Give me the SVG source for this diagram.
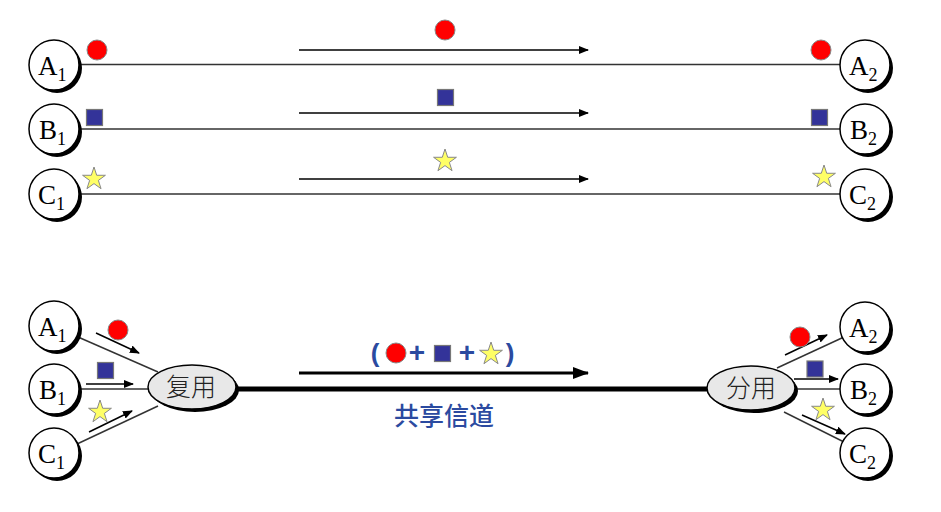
<svg xmlns="http://www.w3.org/2000/svg" xmlns:xlink="http://www.w3.org/1999/xlink" width="941" height="512" viewBox="0 0 941 512">
<style>
.node circle.bg{fill:#fff;stroke:#000;stroke-width:1.5}
.shadow{fill:#000}
.lbl{font-family:"Liberation Serif","Times New Roman",serif;font-size:27px;fill:#000}
.sub{font-size:18px}
.ln{stroke:#333;stroke-width:1.5;fill:none}
.arr{stroke:#000;stroke-width:1.5;fill:none;marker-end:url(#ah)}
.dot{fill:#ff0000;stroke:#888;stroke-width:1}
.sq{fill:#333399;stroke:#777;stroke-width:1.2}
.star{fill:#ffff66;stroke:#888;stroke-width:1}
.ell{fill:#e8e8e8;stroke:#000;stroke-width:1.5}
.cjk{font-family:"Noto Sans CJK SC",sans-serif;font-size:25px;fill:#222;font-weight:300}
.blue{fill:#2b4aa0;font-family:"Liberation Sans","Noto Sans CJK SC",sans-serif}
</style>
<defs>
<marker id="ah" markerWidth="10" markerHeight="8" refX="9" refY="4" orient="auto" markerUnits="userSpaceOnUse"><path d="M0,0 L10,4 L0,8 Z" fill="#000"/></marker>
<marker id="ahb" markerWidth="16" markerHeight="12" refX="15" refY="6" orient="auto" markerUnits="userSpaceOnUse"><path d="M0,0 L16,6 L0,12 Z" fill="#000"/></marker>
<polygon id="star" points="0,-12 2.7,-3.72 11.41,-3.71 4.37,1.42 7.05,9.71 0,4.6 -7.05,9.71 -4.37,1.42 -11.41,-3.71 -2.7,-3.72"/>
<circle id="dot" r="10"/>
<rect id="sq" x="-8" y="-8" width="16" height="16"/>
</defs>

<!-- connectors -->
<g id="connectors">
<line class="ln" x1="79" y1="64.5" x2="841" y2="64.5"/>
<line class="ln" x1="79" y1="129" x2="841" y2="129"/>
<line class="ln" x1="79" y1="194" x2="841" y2="194"/>
<line class="arr" x1="299" y1="50" x2="588" y2="50"/>
<line class="arr" x1="299" y1="113" x2="588" y2="113"/>
<line class="arr" x1="299" y1="179" x2="588" y2="179"/>
<line class="ln" x1="78" y1="337" x2="158" y2="372"/>
<line class="ln" x1="79" y1="389" x2="148" y2="389"/>
<line class="ln" x1="77" y1="444" x2="158" y2="406"/>
<line class="arr" x1="96" y1="333" x2="139" y2="353"/>
<line class="arr" x1="86" y1="384" x2="133" y2="384"/>
<line class="arr" x1="89" y1="432" x2="132" y2="411"/>
<line x1="236" y1="389" x2="708" y2="389" stroke="#000" stroke-width="5"/>
<line x1="299" y1="373" x2="588" y2="373" stroke="#000" stroke-width="3" marker-end="url(#ahb)"/>
<line class="ln" x1="777" y1="368" x2="844" y2="337"/>
<line class="ln" x1="796" y1="389" x2="841" y2="389"/>
<line class="ln" x1="784" y1="412" x2="844" y2="442"/>
<line class="arr" x1="785" y1="355" x2="827" y2="335"/>
<line class="arr" x1="794" y1="379" x2="838" y2="379"/>
<line class="arr" x1="802" y1="415" x2="845" y2="434"/>
</g>

<!-- top nodes -->
<g id="A1_top" class="node"><circle class="shadow" cx="57" cy="68" r="25"/><circle class="bg" cx="54" cy="65" r="25"/><text class="lbl" x="38" y="75">A<tspan class="sub" dy="6">1</tspan></text></g>
<g id="B1_top" class="node"><circle class="shadow" cx="57" cy="132" r="25"/><circle class="bg" cx="54" cy="129" r="25"/><text class="lbl" x="39" y="139">B<tspan class="sub" dy="6">1</tspan></text></g>
<g id="C1_top" class="node"><circle class="shadow" cx="57" cy="197" r="25"/><circle class="bg" cx="54" cy="194" r="25"/><text class="lbl" x="38" y="204">C<tspan class="sub" dy="6">1</tspan></text></g>
<g id="A2_top" class="node"><circle class="shadow" cx="868" cy="68" r="25"/><circle class="bg" cx="865" cy="65" r="25"/><text class="lbl" x="849" y="75">A<tspan class="sub" dy="6">2</tspan></text></g>
<g id="B2_top" class="node"><circle class="shadow" cx="868" cy="132" r="25"/><circle class="bg" cx="865" cy="129" r="25"/><text class="lbl" x="850" y="139">B<tspan class="sub" dy="6">2</tspan></text></g>
<g id="C2_top" class="node"><circle class="shadow" cx="868" cy="197" r="25"/><circle class="bg" cx="865" cy="194" r="25"/><text class="lbl" x="849" y="204">C<tspan class="sub" dy="6">2</tspan></text></g>

<!-- top symbols -->
<g id="top_symbols">
<use href="#dot" class="dot" x="97" y="50"/>
<use href="#sq" class="sq" x="94.5" y="117.5"/>
<use href="#star" class="star" x="94" y="179"/>
<use href="#dot" class="dot" x="445" y="30"/>
<use href="#sq" class="sq" x="445.5" y="97.5"/>
<use href="#star" class="star" x="445" y="161"/>
<use href="#dot" class="dot" x="821" y="50"/>
<use href="#sq" class="sq" x="819.5" y="117.5"/>
<use href="#star" class="star" x="824" y="177"/>
</g>

<!-- bottom nodes -->
<g id="A1_bot" class="node"><circle class="shadow" cx="57" cy="329" r="25"/><circle class="bg" cx="54" cy="326" r="25"/><text class="lbl" x="38" y="336">A<tspan class="sub" dy="6">1</tspan></text></g>
<g id="B1_bot" class="node"><circle class="shadow" cx="57" cy="392" r="25"/><circle class="bg" cx="54" cy="389" r="25"/><text class="lbl" x="39" y="399">B<tspan class="sub" dy="6">1</tspan></text></g>
<g id="C1_bot" class="node"><circle class="shadow" cx="57" cy="456" r="25"/><circle class="bg" cx="54" cy="453" r="25"/><text class="lbl" x="38" y="463">C<tspan class="sub" dy="6">1</tspan></text></g>
<g id="A2_bot" class="node"><circle class="shadow" cx="868" cy="330" r="25"/><circle class="bg" cx="865" cy="327" r="25"/><text class="lbl" x="849" y="337">A<tspan class="sub" dy="6">2</tspan></text></g>
<g id="B2_bot" class="node"><circle class="shadow" cx="868" cy="392" r="25"/><circle class="bg" cx="865" cy="389" r="25"/><text class="lbl" x="850" y="399">B<tspan class="sub" dy="6">2</tspan></text></g>
<g id="C2_bot" class="node"><circle class="shadow" cx="868" cy="456" r="25"/><circle class="bg" cx="865" cy="453" r="25"/><text class="lbl" x="849" y="463">C<tspan class="sub" dy="6">2</tspan></text></g>

<g id="mux" class="node"><ellipse class="shadow" cx="195" cy="390" rx="44" ry="22"/><ellipse class="ell" cx="192" cy="387" rx="44" ry="22"/><text class="cjk" x="191" y="396" text-anchor="middle">复用</text></g>
<g id="demux" class="node"><ellipse class="shadow" cx="754" cy="391" rx="44" ry="22"/><ellipse class="ell" cx="751" cy="388" rx="44" ry="22"/><text class="cjk" x="751" y="397" text-anchor="middle">分用</text></g>

<!-- bottom symbols -->
<g id="bottom_symbols">
<use href="#dot" class="dot" x="118" y="330"/>
<use href="#sq" class="sq" x="105.5" y="370.5"/>
<use href="#star" class="star" x="100" y="412"/>
<use href="#dot" class="dot" x="800" y="337"/>
<use href="#sq" class="sq" x="815" y="369"/>
<use href="#star" class="star" x="823" y="410"/>
</g>

<g id="formula">
<text class="blue" x="375" y="362" font-size="26" font-weight="bold" text-anchor="middle">(</text>
<use href="#dot" class="dot" x="396" y="353"/>
<text class="blue" x="417" y="362" font-size="28" font-weight="bold" text-anchor="middle">+</text>
<use href="#sq" class="sq" x="442.5" y="353.5"/>
<text class="blue" x="467" y="362" font-size="28" font-weight="bold" text-anchor="middle">+</text>
<use href="#star" class="star" x="491" y="354"/>
<text class="blue" x="510" y="362" font-size="26" font-weight="bold" text-anchor="middle">)</text>
</g>
<text id="channel_label" class="blue" x="444" y="425" font-size="25" font-weight="500" text-anchor="middle" style="font-family:'Noto Sans CJK SC',sans-serif">共享信道</text>
</svg>
